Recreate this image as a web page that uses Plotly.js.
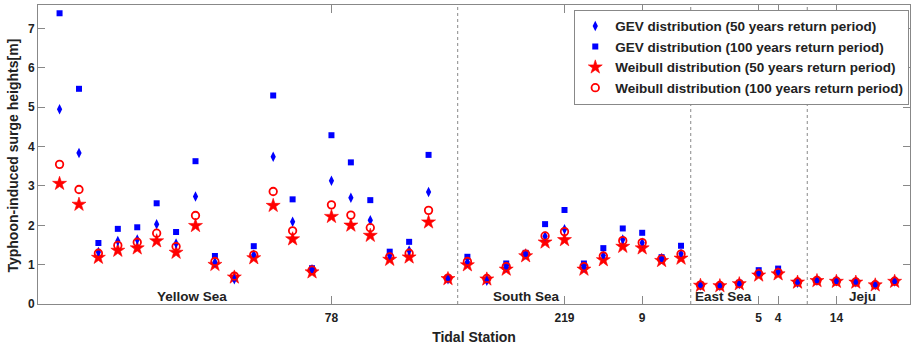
<!DOCTYPE html>
<html>
<head>
<meta charset="utf-8">
<script src="https://cdn.plot.ly/plotly-3.0.1.min.js"></script>
<style>html,body{margin:0;padding:0;background:#fff;}#chart{width:911px;height:347px;}</style>
</head>
<body>
<div id="chart"></div>
<script>
const stations = [1,2,3,4,5,6,7,8,9,10,11,12,13,14,15,16,17,18,19,20,21,22,23,24,25,26,27,28,29,30,31,32,33,34,35,36,37,38,39,40,41,42,43,44];
const gev50 = [4.95,3.84,1.32,1.60,1.64,2.03,1.54,2.73,1.06,0.63,1.25,3.74,2.09,0.88,3.13,2.70,2.13,1.23,1.36,2.85,0.63,1.07,0.59,0.94,1.26,1.72,1.90,0.94,1.23,1.64,1.56,1.15,1.28,0.47,0.46,0.51,0.78,0.82,0.54,0.59,0.58,0.55,0.48,0.57];
const gev100 = [7.39,5.47,1.55,1.91,1.95,2.56,1.83,3.63,1.22,0.66,1.47,5.30,2.66,0.91,4.29,3.60,2.64,1.33,1.58,3.79,0.66,1.20,0.62,1.03,1.30,2.03,2.39,1.03,1.42,1.92,1.81,1.19,1.48,0.49,0.47,0.54,0.86,0.90,0.56,0.60,0.59,0.57,0.49,0.58];
const weibull50 = [3.06,2.53,1.18,1.36,1.42,1.60,1.31,1.99,1.00,0.68,1.17,2.50,1.65,0.81,2.22,2.00,1.74,1.13,1.19,2.08,0.64,0.99,0.63,0.88,1.22,1.57,1.63,0.88,1.12,1.46,1.42,1.10,1.16,0.47,0.46,0.51,0.73,0.76,0.55,0.59,0.57,0.55,0.48,0.57];
const weibull100 = [3.55,2.91,1.29,1.49,1.57,1.80,1.46,2.25,1.08,0.71,1.25,2.86,1.86,0.86,2.52,2.26,1.94,1.20,1.29,2.38,0.66,1.08,0.65,0.95,1.27,1.73,1.84,0.95,1.22,1.61,1.56,1.14,1.27,0.48,0.47,0.52,0.77,0.80,0.56,0.60,0.58,0.56,0.49,0.58];
const tickPositions = [15,27,31,37,38,41];
const tickLabels = ['78','219','9','5','4','14'];
const yTicks = [0,1,2,3,4,5,6,7];
const regionBounds = [21.5,33.5,39.5];
const regionNames = ['Yellow Sea','South Sea','East Sea','Jeju'];
const regionLabelX = [7.82,25.05,35.2,42.35];

const FONT = 'Liberation Sans, Arial, sans-serif';
const traces = [
  {x: stations, y: gev100, mode:'markers', type:'scatter', name:'<b>GEV distribution (100 years return period)</b>', legendrank:2,
   marker:{symbol:'square', size:6, color:'#0000ff'}},
  {x: stations, y: weibull50, mode:'markers', type:'scatter', name:'<b>Weibull distribution (50 years return period)</b>', legendrank:3,
   marker:{symbol:'star', size:10.5, color:'#ff0000', line:{color:'#ff0000', width:0.6}}},
  {x: stations, y: gev50, mode:'markers', type:'scatter', name:'<b>GEV distribution (50 years return period)</b>', legendrank:1,
   marker:{symbol:'diamond-tall', size:7.5, color:'#0000ff'}},
  {x: stations, y: weibull100, mode:'markers', type:'scatter', name:'<b>Weibull distribution (100 years return period)</b>', legendrank:4,
   marker:{symbol:'circle-open', size:7.5, color:'#ff0000', line:{color:'#ff0000', width:1.8}}}
];

const shapes = regionBounds.map(b => ({type:'line', xref:'x', yref:'paper', x0:b, x1:b, y0:0, y1:1,
  line:{color:'#888', width:1, dash:'dot'}}));
const annotations = regionNames.map((n,i) => ({x: regionLabelX[i], y: 0.19, xref:'x', yref:'y', text:'<b>'+n+'</b>',
  showarrow:false, font:{family:FONT, size:13.5, color:'#222'}}));
annotations.push({xref:'paper', yref:'paper', x:-0.0292, y:0.495, xanchor:'center', yanchor:'middle', textangle:-90,
  showarrow:false, text:'<b>Typhoon-induced surge heights[m]</b>', font:{family:FONT, size:14, color:'#222'}});

const layout = {
  width: 911, height: 347,
  margin: {l:38, r:1, t:5, b:43},
  paper_bgcolor:'#fff', plot_bgcolor:'#fff',
  font:{family:FONT, size:12, color:'#222'},
  showlegend:true,
  legend:{x:0.615, y:0.984, xanchor:'left', yanchor:'top', bgcolor:'#fff', bordercolor:'#888', borderwidth:1,
    font:{family:FONT, size:13.5, color:'#222'}, tracegroupgap:0},
  xaxis:{range:[-0.11,44.79], tickmode:'array', tickvals:tickPositions, ticktext:tickLabels.map(t=>'<b>'+t+'</b>'),
    ticks:'inside', ticklen:8, tickcolor:'#888', showline:true, linecolor:'#888', mirror:'ticks', showgrid:false, zeroline:false,
    tickfont:{family:FONT, size:12, color:'#222'}, ticklabelstandoff:3,
    title:{text:'<b>Tidal Station</b>', font:{family:FONT, size:14, color:'#222'}, standoff:7}},
  yaxis:{range:[0,7.6], tickmode:'array', tickvals:yTicks, ticktext:yTicks.map(t=>'<b>'+t+'</b>'),
    ticks:'inside', ticklen:7, tickcolor:'#888', showline:true, linecolor:'#888', mirror:'ticks', showgrid:false, zeroline:false,
    tickfont:{family:FONT, size:12, color:'#222'}},
  shapes: shapes,
  annotations: annotations
};
Plotly.newPlot('chart', traces, layout, {displayModeBar:false, staticPlot:true});
</script>
</body>
</html>
